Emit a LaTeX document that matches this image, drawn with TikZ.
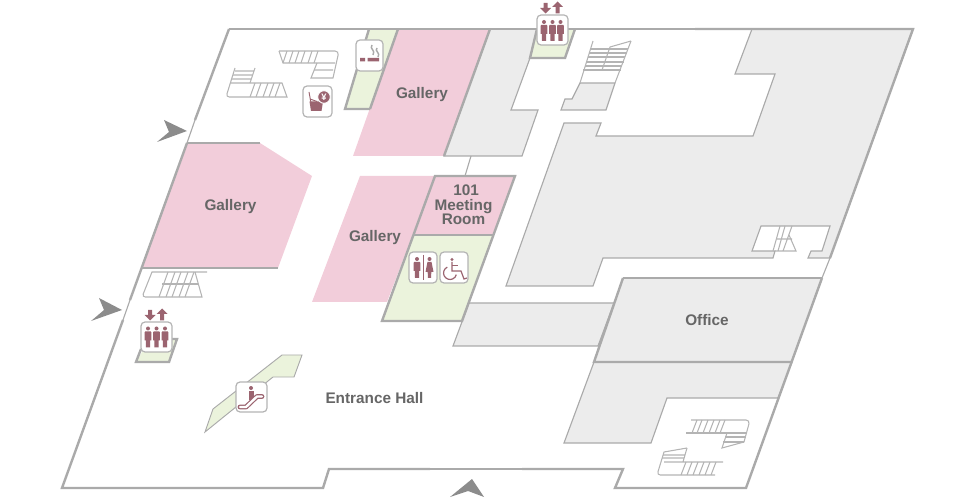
\documentclass[tikz,border=0pt]{standalone}
\usepackage{fontspec}
\setmainfont{Liberation Sans}
\definecolor{pinkroom}{HTML}{F2CDDA}
\definecolor{greenroom}{HTML}{EBF3DC}
\definecolor{greyroom}{HTML}{ECECEC}
\definecolor{wall}{HTML}{AAAAAA}
\definecolor{stairc}{HTML}{B4B4B4}
\definecolor{iconc}{HTML}{9B6470}
\definecolor{labelc}{HTML}{666666}
\definecolor{arrowc}{HTML}{8C8C8C}
\tikzset{
  wallthick/.style={draw=wall,line width=1.8pt,line join=miter},
  wallthin/.style={draw=wall,line width=0.85pt,line join=miter},
  stairline/.style={draw=stairc,line width=0.8pt},
  iconbox/.style={draw=stairc,fill=white,line width=0.9pt,rounded corners=3pt},
  roomlabel/.style={font=\bfseries\fontsize{11.5pt}{10.9pt}\selectfont,text=labelc,inner sep=0pt,align=center},
  pers/.pic={
    \fill[iconc] (0,0) circle (2);
    \fill[iconc] (-2.6,2.8) -- (2.6,2.8) -- (3.4,3.8) -- (3.4,12) -- (2.2,12) -- (2,19) -- (-2,19) -- (-2.2,12) -- (-3.4,12) -- (-3.4,3.8) -- cycle;
  },
  persf/.pic={
    \fill[iconc] (0,0) circle (2);
    \fill[iconc] (-2,2.8) -- (2,2.8) -- (4,13) -- (1.8,13) -- (1.6,19) -- (-1.6,19) -- (-1.8,13) -- (-4,13) -- cycle;
  },
  updown/.pic={
    \fill[iconc] (-2,-5) -- (2,-5) -- (2,0) -- (5.5,0) -- (0,5.5) -- (-5.5,0) -- (-2,0) -- cycle;
    \fill[iconc] (10,5.5) -- (14,5.5) -- (14,-1) -- (17.5,-1) -- (12,-6.5) -- (6.5,-1) -- (10,-1) -- cycle;
  }
}
\begin{document}
\begin{tikzpicture}[x=0.75pt,y=-0.75pt]
\useasboundingbox (0,0) rectangle (980,498);

% ---- grey rooms
\path[wallthin,fill=greyroom] (490,29) -- (537,29) -- (530,58) -- (511,110) -- (538,110) -- (522,156) -- (444,156) -- cycle;
\path[wallthin,fill=greyroom] (752,29) -- (913,29) -- (830,258) -- (808,258) -- (811,251) -- (822,251) -- (830,226) -- (761,226) -- (752,251) -- (775,251) -- (773,258) -- (603,258) -- (593,286) -- (506,286) -- (564,123) -- (601,123) -- (596,136) -- (753,136) -- (775,74) -- (735,74) -- cycle;
\path[wallthin,fill=greyroom] (469,303) -- (614,303) -- (598,346) -- (453,346) -- cycle;
\path[fill=greyroom] (623,278) -- (822,278) -- (792,362) -- (594,362) -- cycle;
\path[wallthin,fill=greyroom] (594,362) -- (792,362) -- (778,398) -- (667,398) -- (651,443) -- (564,443) -- cycle;
\path[wallthin] (471,156) -- (465,176);

% ---- pink rooms
\path[fill=pinkroom] (398,29) -- (490,29) -- (444,156) -- (353,156) -- cycle;
\path[fill=pinkroom] (187,143) -- (260,143) -- (312,176) -- (278,268) -- (142,268) -- cycle;
\path[fill=pinkroom] (360,176) -- (435,176) -- (387,302) -- (312,302) -- cycle;
\path[fill=pinkroom] (435,176) -- (515,176) -- (493,235) -- (414,235) -- cycle;

% ---- green rooms
\path[fill=greenroom] (369,29) -- (398,29) -- (370,109) -- (345,109) -- cycle;
\path[fill=greenroom] (414,235) -- (493,235) -- (462,321) -- (382,321) -- cycle;
\path[fill=greenroom] (537,29) -- (575,29) -- (565,58) -- (530,58) -- cycle;
\path[fill=greenroom] (150,339) -- (177,339) -- (169,362) -- (136,362) -- cycle;
\path[draw=wall,line width=0.7pt,fill=greenroom] (282,355) -- (302,355) -- (294,377) -- (273,377) -- (205,432) -- (213,409) -- cycle;

% ---- thick room borders
\path[wallthick] (369,29) -- (345,109) -- (370,109);
\path[wallthick] (398,29) -- (370,109);
\path[wallthick] (490,29) -- (444,156);
\path[wallthick] (537,29) -- (530,58) -- (565,58) -- (575,29);
\path[wallthick] (187,143) -- (260,143);
\path[wallthick] (142,268) -- (278,268);
\path[wallthick] (435,176) -- (515,176) -- (462,321) -- (382,321) -- cycle;
\path[wallthick] (414,235) -- (493,235);
\path[wallthick] (623,278) -- (822,278);
\path[wallthick] (623,278) -- (594,362) -- (792,362);
\path[wallthick] (150,339) -- (177,339) -- (169,362) -- (136,362) -- (141,349);

% ---- outer wall
\path[wallthick] (229,29) -- (635,29);
\path[wallthin] (635,29) -- (695,29);
\path[wallthick] (695,29) -- (913,29) -- (830,258);
\path[wallthin] (830,258) -- (822,278);
\path[wallthick] (822,278) -- (746,488) -- (615,488) -- (623,469) -- (522,469);
\path[wallthin] (522,469) -- (430,469);
\path[wallthick] (430,469) -- (329,469) -- (323,488) -- (62,488) -- (123,320);
\path[wallthin] (123,320) -- (130,300);
\path[wallthick] (130,300) -- (187,143);
\path[wallthin] (187,143) -- (195,120);
\path[wallthick] (195,120) -- (229,29);

% ---- stairs top-left, lower flight
\path[stairline] (235,68) [rounded corners=2.5pt] -- (226,97) [sharp corners] -- (287,97) -- (282,83) -- (230,83);
\path[stairline] (235,71) -- (254,71) (233,75) -- (252,75) (232,79) -- (251,79) (255,68) -- (250,83);
\foreach \t in {255,261,268,274,280} \path[stairline] (\t,83) -- (\t-5,97);
% ---- stairs top-left, upper flight
\path[stairline] (279,51) [rounded corners=3pt] -- (339,51) [sharp corners] -- (333,78) -- (311,78) -- (317,63);
\path[stairline] (279,51) -- (283,63) -- (335,63) (314,70) -- (333,70);
\foreach \t in {287,293,299,305,312,318} \path[stairline] (\t,51) -- (\t-4,63);

% ---- stairs top-centre
\path[wallthin,fill=greyroom] (580,83) -- (615,83) -- (606,110) -- (561,110) -- (565,99) -- (572,99) -- cycle;
\path[stairline] (593,41) -- (580,83) (631,41) -- (615,83) (631,41) -- (610,47) -- (602,70);
\foreach \y/\a/\b in {49/590/628,53/589/627,57/588/625,62/586/624,66/585/622,70/583/621} \path[stairline] (\a,\y) -- (\b,\y);

% ---- stairs in the notch of the large grey room
\path[stairline] (780,226) -- (773,251) (785,226) -- (778,251) (792,226) -- (783,251) (789,235) -- (796,251) -- (775,251) (777,239) -- (792,239);

% ---- stairs bottom-right
\path[stairline] (691,420) [rounded corners=3pt] -- (750,420) [sharp corners] -- (744,442) -- (722,448) -- (727,433);
\path[stairline] (686,433) -- (747,433) (725,437) -- (746,437) (723,442) -- (744,442);
\foreach \t in {697,702,708,714,720,725} \path[stairline] (\t,420) -- (\t-5,433);
\path[stairline] (687,448) -- (664,452) [rounded corners=2.5pt] -- (657,475) [sharp corners] -- (715,475);
\path[stairline] (687,448) -- (683,462) (664,462) -- (723,462) (663,455) -- (685,455) (662,458) -- (684,458);
\foreach \t in {686,692,698,704,710,716} \path[stairline] (\t,462) -- (\t-5,475);

% ---- stairs lower-left
\path[stairline] (207,272) -- (152,272) [rounded corners=2.5pt] -- (142,297) [sharp corners] -- (202,297) -- (195,272);
\path[stairline] (162,284) -- (198,284);
\foreach \t in {168,175,181,188,194} \path[stairline] (\t,272) -- (\t-9,297);

% ---- entrance arrows
\fill[arrowc] (187,131) -- (164,120) -- (169,132) -- (157,142) -- cycle;
\fill[arrowc] (122,310) -- (99,298) -- (104,310) -- (91,321) -- cycle;
\fill[arrowc] (472,479) -- (450,497) -- (468,491) -- (484,497) -- cycle;

% ---- smoking icon
\path[iconbox] (356,40) rectangle (383,71);
\fill[iconc] (360,58) rectangle (365,61.5) (367.5,58) rectangle (379,61.5);
\path[draw=wall,line width=1.1pt] (372,45) .. controls (369,49) and (376,50) .. (373,55);
\path[draw=wall,line width=1.1pt] (377,48) .. controls (374,51) and (381,53) .. (378,57);

% ---- drinks icon
\path[iconbox] (303,86) rectangle (332,117);
\fill[iconc] (309.5,101.5) -- (323,101.5) -- (321.5,111) -- (311,111) -- cycle;
\path[draw=iconc,line width=0.7pt] (309,92) -- (311,103);
\path[draw=iconc,line width=0.7pt] (310,99) -- (317,101.5);
\path[fill=iconc,draw=white,line width=0.7pt] (324,97) circle (6.3);
\node[font=\bfseries\fontsize{7pt}{7pt}\selectfont,text=white,inner sep=0pt] (yen) at (324,97) {¥};

% ---- toilet icon
\path[iconbox] (409,252) rectangle (437,283);
\pic at (417,259) {pers};
\pic at (429.5,259) {persf};
\path[draw=iconc,line width=0.5pt] (423.5,255) -- (423.5,280);

% ---- wheelchair icon
\path[iconbox] (440,252) rectangle (468,283);
\fill[iconc] (452,259.5) circle (1.7);
\path[draw=iconc,line width=0.9pt] (452,262) -- (452,271) -- (461,271) -- (464,279) -- (467,278);
\path[draw=iconc,line width=0.9pt] (452,265.5) -- (458,265.5);
\path[draw=iconc,line width=0.9pt] (447.3,267.1) arc[start angle=245,end angle=15,radius=6.5];

% ---- top elevator icon
\pic at (545.5,8) {updown};
\path[iconbox] (537,15) rectangle (568,45);
\pic at (544,22) {pers};
\pic at (552.5,22) {pers};
\pic at (560.5,22) {pers};

% ---- left elevator icon
\pic at (150,315) {updown};
\path[iconbox] (141,322) rectangle (172,352);
\pic at (148,328.5) {pers};
\pic at (156.5,328.5) {pers};
\pic at (165,328.5) {pers};

% ---- escalator icon
\path[iconbox] (236,382) rectangle (267,412);
\fill[iconc] (251,388) circle (2);
\fill[iconc] (248.5,391) rectangle (253.5,400);
\path[draw=iconc,line width=3.6pt,line cap=round,line join=round] (240,407) -- (246,407) -- (257,396.5) -- (262,396.5);
\path[draw=white,line width=1.8pt,line cap=round,line join=round] (240,407) -- (246,407) -- (257,396.5) -- (262,396.5);

% ---- labels
\node[roomlabel] (galleryA) at (422,95) {Gallery};
\node[roomlabel] (galleryB) at (230.5,206.5) {Gallery};
\node[roomlabel] (galleryC) at (375,237.5) {Gallery};
\node[roomlabel] (meeting) at (463.5,205) {\hspace*{4pt}101\\Meeting\\Room};
\node[roomlabel] (office) at (707,320) {Office};
\node[roomlabel] (hall) at (374.5,398) {Entrance Hall};
\end{tikzpicture}
\end{document}
